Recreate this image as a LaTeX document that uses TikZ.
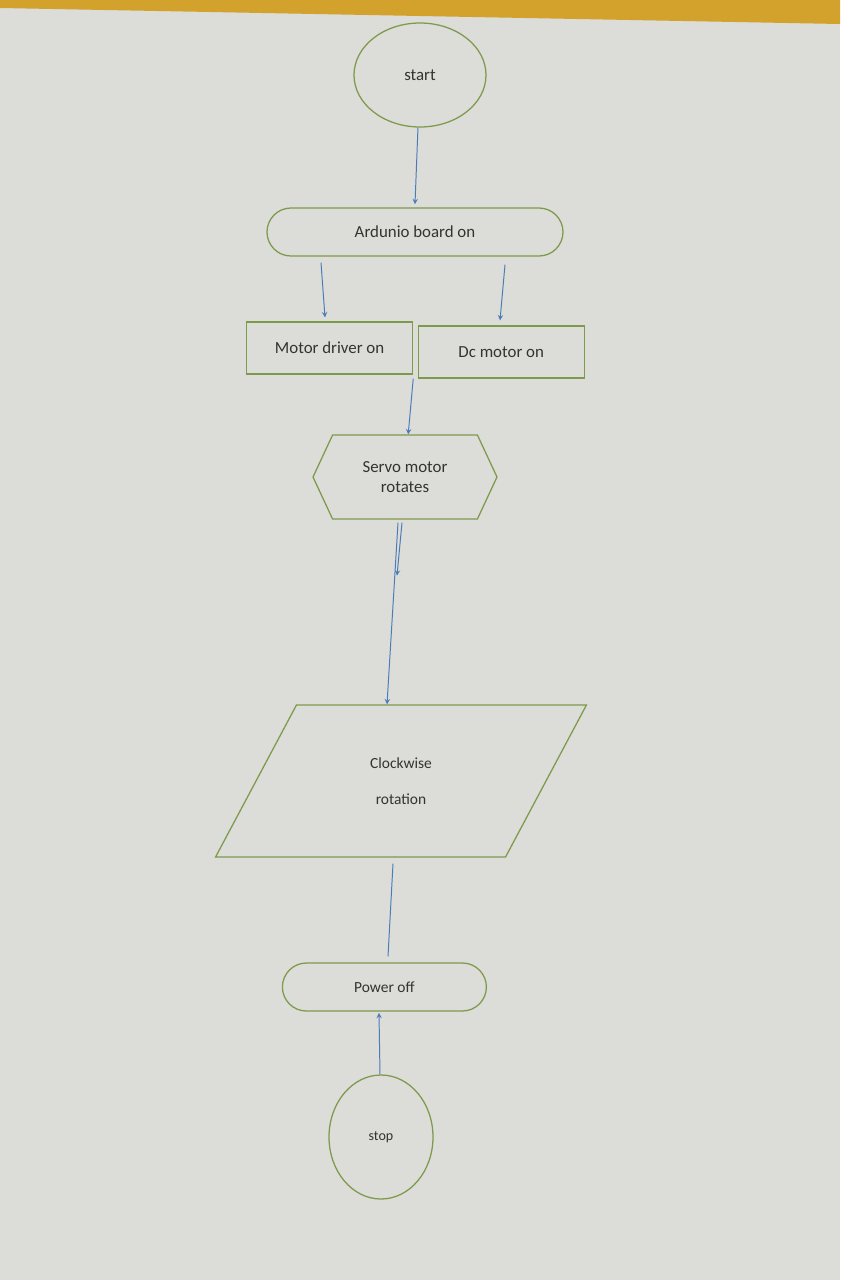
\documentclass[tikz,border=0pt]{standalone}
\usepackage{fontspec}
\setmainfont{Carlito}
\usepackage{tikz}
\usetikzlibrary{shapes,arrows}
\usepackage{xcolor}
\definecolor{shapeline}{HTML}{7E9A4C}
\definecolor{arrowblue}{HTML}{4A7DB8}
\definecolor{screen}{HTML}{DCDCD8}
\definecolor{frame}{HTML}{D2A22C}
\tikzstyle{terminal} = [ellipse, minimum width=3.3cm, minimum height=2.6cm, text centered, draw=shapeline, line width=0.9pt]
\tikzstyle{pill} = [rectangle, rounded corners=0.6cm, minimum height=1.2cm, text centered, draw=shapeline, line width=0.9pt]
\tikzstyle{process} = [rectangle, minimum width=4.15cm, minimum height=1.3cm, text centered, draw=shapeline, line width=0.9pt]
\tikzstyle{prep} = [signal, signal to=east and west, signal pointer angle=130, minimum width=4.6cm, minimum height=2.1cm, align=center, draw=shapeline, line width=0.9pt]
\tikzstyle{io} = [trapezium, trapezium left angle=64, trapezium right angle=116, trapezium stretches=true, minimum width=9.3cm, minimum height=3.8cm, align=center, draw=shapeline, line width=0.9pt]
\tikzstyle{arrow} = [draw=arrowblue, line width=0.7pt, ->, >=stealth]
\tikzstyle{line} = [draw=arrowblue, line width=0.7pt]

\begin{document}
\begin{tikzpicture}[node distance=3cm, font=\fontsize{12}{14}\selectfont, text=black!80]
    \useasboundingbox (0,0) rectangle (21,-32);
    \fill [screen] (0,0) rectangle (21,-32);
    \fill [frame] (0,0) -- (21,0) -- (21,-0.6) -- (0,-0.2) -- cycle;

    \node (start) [terminal] at (10.5,-1.875) {start};
    \node (ard) [pill, minimum width=7.4cm, below of=start, yshift=-0.925cm, xshift=-0.125cm] {Ardunio board on};
    \node (mdrv) [process, below of=ard, xshift=-2.135cm, yshift=0.1cm] {Motor driver on};
    \node (dcm) [process, right of=mdrv, xshift=1.29cm, yshift=-0.1cm] {Dc motor on};
    \node (servo) [prep, below of=ard, yshift=-3.125cm, xshift=-0.25cm] {Servo motor\\rotates};
    \node (cw) [io, font=\fontsize{11}{13}\selectfont, below of=servo, yshift=-4.6cm, xshift=-0.1cm] {Clockwise\\[0.45cm]rotation};
    \node (poff) [pill, minimum width=5.1cm, font=\fontsize{11}{13}\selectfont, below of=cw, yshift=-2.15cm, xshift=-0.415cm] {Power off};
    \node (stop) [terminal, minimum width=2.6cm, minimum height=3.1cm, font=\fontsize{10}{12}\selectfont, below of=poff, yshift=-0.75cm, xshift=-0.085cm] {stop};

    \draw [arrow] (start) -- ([yshift=0.08cm]ard.north);
    \draw [arrow] ([xshift=-2.35cm,yshift=-0.15cm]ard.south) -- ([xshift=-0.115cm,yshift=0.1cm]mdrv.north);
    \draw [arrow] ([xshift=2.25cm,yshift=-0.2cm]ard.south) -- ([xshift=-0.03cm,yshift=0.125cm]dcm.north);
    \draw [arrow] ([yshift=-0.1cm]mdrv.south east) -- ([xshift=0.08cm]servo.north);
    \draw [arrow] ([xshift=-0.075cm,yshift=-0.075cm]servo.south) -- ([xshift=-0.2cm,yshift=-1.4cm]servo.south);
    \draw [arrow] ([xshift=-0.175cm,yshift=-0.075cm]servo.south) -- ([xshift=-0.35cm]cw.north);
    \draw [line] ([xshift=-0.2cm,yshift=-0.15cm]cw.south) -- ([xshift=0.09cm,yshift=0.15cm]poff.north);
    \draw [arrow] (stop) -- ([xshift=-0.135cm,yshift=-0.03cm]poff.south);
\end{tikzpicture}
\end{document}
